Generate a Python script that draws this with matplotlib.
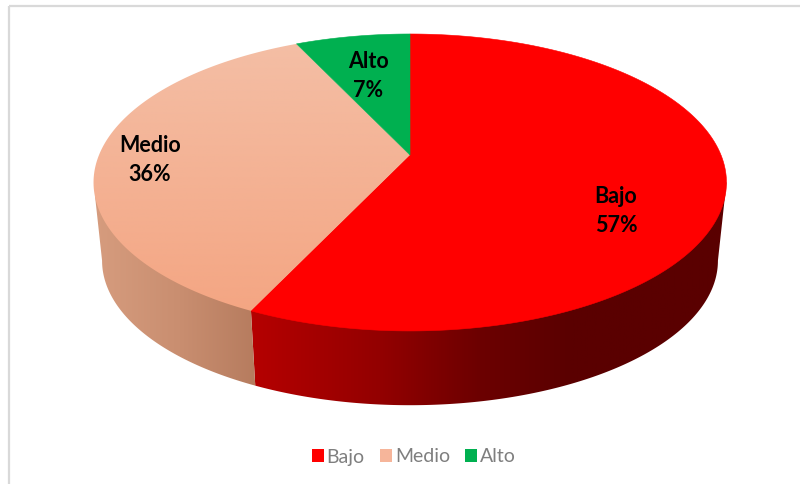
import numpy as np
import matplotlib
matplotlib.use("Agg")
import matplotlib.pyplot as plt
from matplotlib.colors import LinearSegmentedColormap
from matplotlib.patches import Polygon, Patch, Rectangle

categories = ["Bajo", "Medio", "Alto"]
shares = [57, 36, 7]

FACE_COLORS = {"Bajo": "#ff0000", "Medio": "#f4b196", "Alto": "#00b050"}
LABEL_POS = {"Bajo": (616, 211), "Medio": (150, 160), "Alto": (368, 76)}
# wall shading, as (screen x, colour) stops
WALL_STOPS = {
    "Bajo": [(240, "#b80000"), (380, "#930000"), (480, "#6c0000"), (570, "#5a0000"), (730, "#5a0000")],
    "Medio": [(95, "#d69c7e"), (180, "#c98e70"), (280, "#b07659")],
}

# perspective projection of the pie disc onto the page
APEX_X, APEX_Y = 410.0, 155.0
RAD_X, RAD_Y = 311.0, 143.4
TILT = 0.185
BASE_APEX_Y, BASE_SCALE = 234.0, 0.973


def rim(theta_deg, base=False):
    """Project rim points; theta runs clockwise from twelve o'clock."""
    t = np.radians(theta_deg)
    u, v = np.sin(t), np.cos(t)
    w = 1 + TILT * v
    scale = BASE_SCALE if base else 1.0
    y0 = BASE_APEX_Y if base else APEX_Y
    return APEX_X + scale * RAD_X * u / w, y0 - scale * RAD_Y * v / w


plt.rcParams["font.family"] = ["Lato", "DejaVu Sans"]
fig = plt.figure(figsize=(8, 4.84), dpi=100, facecolor="white")
ax = fig.add_axes([0, 0, 1, 1])
ax.set_xlim(0, 800)
ax.set_ylim(484, 0)
ax.axis("off")

ax.add_patch(Rectangle((9, 6), 1000, 800, fill=False, ec="#d9d9d9", lw=1.6, zorder=1))

edges = np.cumsum([0] + shares) / sum(shares) * 360

# outer wall: a horizontal colour ramp clipped to each slice's visible side
silhouette = np.degrees(np.arcsin(TILT))
VISIBLE = (90.0 + silhouette, 270.0 - silhouette)
for name, a0, a1 in zip(categories, edges[:-1], edges[1:]):
    lo, hi = max(a0, VISIBLE[0]), min(a1, VISIBLE[1])
    if lo >= hi:
        continue
    th = np.linspace(lo, hi, 300)
    xb, yb = rim(th, base=True)
    xt, yt = rim(np.array([hi, lo]))
    pts = np.column_stack([np.r_[xb, xt[0], APEX_X, xt[1]], np.r_[yb, yt[0], APEX_Y, yt[1]]])
    clip = Polygon(pts, closed=True, fc="none", ec="none", transform=ax.transData)
    ax.add_patch(clip)
    stops = WALL_STOPS[name]
    x0, x1 = stops[0][0], stops[-1][0]
    cmap = LinearSegmentedColormap.from_list(
        name, [((s[0] - x0) / (x1 - x0), s[1]) for s in stops])
    img = ax.imshow(np.linspace(0, 1, 512)[None, :], cmap=cmap, aspect="auto",
                    extent=(x0, x1, 420, 150), zorder=2)
    img.set_clip_path(clip)

# top face
for name, a0, a1 in zip(categories, edges[:-1], edges[1:]):
    th = np.linspace(a0, a1, 240)
    xt, yt = rim(th)
    pts = np.column_stack([np.r_[APEX_X, xt], np.r_[APEX_Y, yt]])
    if name == "Medio":
        # the Medio slice fades slightly from top to bottom
        clip = Polygon(pts, closed=True, fc="none", ec="none", transform=ax.transData)
        ax.add_patch(clip)
        cmap = LinearSegmentedColormap.from_list("medio", ["#f4bfa6", "#f4a582"])
        img = ax.imshow(np.linspace(0, 1, 256)[:, None], cmap=cmap, aspect="auto",
                        extent=(80, 420, 320, 35), origin="upper", zorder=3)
        img.set_clip_path(clip)
    else:
        ax.add_patch(Polygon(pts, closed=True, fc=FACE_COLORS[name], ec=FACE_COLORS[name], lw=0.4, zorder=3))
ax.set_xlim(0, 800)
ax.set_ylim(484, 0)

for name, share in zip(categories, shares):
    x, y = LABEL_POS[name]
    ax.text(x, y, f"{name}\n{share}%", ha="center", va="center", fontsize=15.5, fontweight="bold",
            color="black", linespacing=1.5, zorder=5)

handles = [Patch(fc=FACE_COLORS[n] if n != "Medio" else "#f6b59a", ec="none", label=n) for n in categories]
ax.legend(handles=handles, ncol=3, loc="center", bbox_to_anchor=(414 / 800, 1 - 457 / 484),
          frameon=False, fontsize=14, labelcolor="#7f7f7f", handlelength=0.62, handleheight=0.62,
          handletextpad=0.12, columnspacing=0.8, borderpad=0)

fig.savefig("out.png", dpi=100, facecolor="white")
